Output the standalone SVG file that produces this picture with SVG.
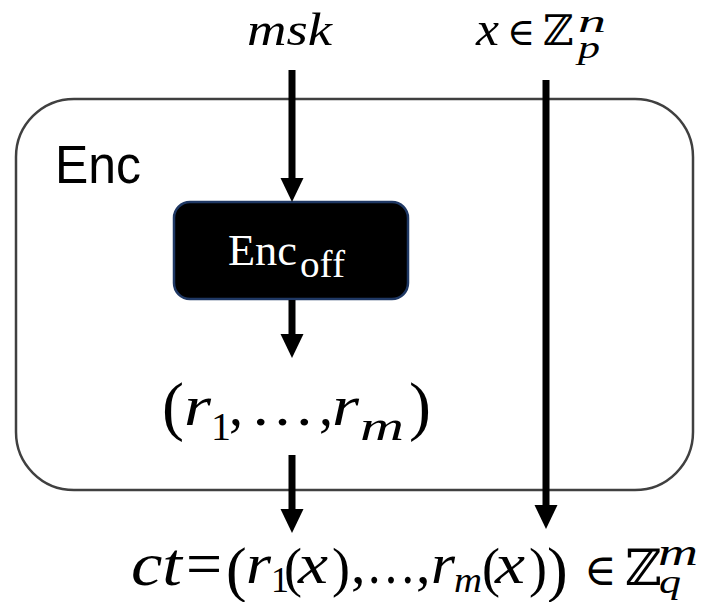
<svg xmlns="http://www.w3.org/2000/svg" width="704" height="602" viewBox="0 0 704 602">
<defs>
<marker id="ah" markerUnits="userSpaceOnUse" markerWidth="24" markerHeight="24" refX="12" refY="11.5" orient="auto" viewBox="0 0 24 23">
<path d="M0,0 L24,11.5 L0,23 z" fill="#000"/>
</marker>
<style>
.m{font-family:"Liberation Serif","DejaVu Serif",serif;font-style:italic;fill:#000}
.r{font-family:"Liberation Serif","DejaVu Serif",serif;fill:#000}
.ds{font-family:"DejaVu Serif","Liberation Serif",serif;fill:#000}
.arr{stroke:#000;stroke-width:7;fill:none;marker-end:url(#ah)}
</style>
</defs>
<rect width="704" height="602" fill="#fff"/>
<g id="enc">
<rect x="16" y="99" width="677" height="391" rx="58" fill="#fff" stroke="#404040" stroke-width="2.5"/>
<text x="55" y="183" font-family="Liberation Sans, Arial, sans-serif" font-size="53" textLength="86" lengthAdjust="spacingAndGlyphs">Enc</text>
</g>
<g id="encoff">
<rect x="174" y="202" width="234" height="97" rx="16" fill="#000" stroke="#1f3864" stroke-width="2.5"/>
<text class="r" x="228" y="265" font-size="45" style="fill:#fff" textLength="69" lengthAdjust="spacingAndGlyphs">Enc</text>
<text class="r" x="300" y="277" font-size="38" style="fill:#fff" textLength="45" lengthAdjust="spacingAndGlyphs">off</text>
</g>
<g id="msk">
<text class="m" x="247" y="45" font-size="46" textLength="85" lengthAdjust="spacingAndGlyphs">msk</text>
</g>
<g id="xin">
<text class="m" x="476" y="45" font-size="48" textLength="23" lengthAdjust="spacingAndGlyphs">x</text>
<text class="ds" x="507" y="45" font-size="38">∈</text>
<text class="ds" x="543" y="45" font-size="42">ℤ</text>
<text class="m" x="578" y="32" font-size="32" textLength="28" lengthAdjust="spacingAndGlyphs">n</text>
<text class="m" x="578" y="58" font-size="32" textLength="22" lengthAdjust="spacingAndGlyphs">p</text>
</g>
<g id="rs">
<text class="r" x="162" y="428" font-size="66">(</text>
<text class="m" x="184" y="425" font-size="58" textLength="27" lengthAdjust="spacingAndGlyphs">r</text>
<text class="r" x="211" y="440" font-size="40">1</text>
<text class="r" x="229" y="425" font-size="56">,</text>
<text class="r" x="250" y="425" font-size="56" textLength="65" lengthAdjust="spacingAndGlyphs">…</text>
<text class="r" x="319" y="425" font-size="56">,</text>
<text class="m" x="332" y="425" font-size="58" textLength="27" lengthAdjust="spacingAndGlyphs">r</text>
<text class="m" x="360" y="440" font-size="40" textLength="44" lengthAdjust="spacingAndGlyphs">m</text>
<text class="r" x="409" y="428" font-size="66">)</text>
</g>
<g id="ct">
<text class="m" x="131" y="585" font-size="62" textLength="51" lengthAdjust="spacingAndGlyphs">ct</text>
<text class="r" x="186" y="585" font-size="64">=</text>
<text class="r" x="226" y="590" font-size="62">(</text>
<text class="m" x="246" y="583" font-size="58" textLength="25" lengthAdjust="spacingAndGlyphs">r</text>
<text class="r" x="271" y="592" font-size="36">1</text>
<text class="r" x="284" y="586" font-size="54">(</text>
<text class="m" x="298" y="583" font-size="58" textLength="30" lengthAdjust="spacingAndGlyphs">x</text>
<text class="r" x="332" y="586" font-size="54">)</text>
<text class="r" x="351" y="583" font-size="58">,</text>
<text class="r" x="366" y="583" font-size="58" textLength="50" lengthAdjust="spacingAndGlyphs">…</text>
<text class="r" x="416" y="583" font-size="58">,</text>
<text class="m" x="431" y="583" font-size="58" textLength="24" lengthAdjust="spacingAndGlyphs">r</text>
<text class="m" x="454" y="592" font-size="36" textLength="28" lengthAdjust="spacingAndGlyphs">m</text>
<text class="r" x="482" y="586" font-size="54">(</text>
<text class="m" x="495" y="583" font-size="58" textLength="30" lengthAdjust="spacingAndGlyphs">x</text>
<text class="r" x="529" y="586" font-size="54">)</text>
<text class="r" x="547" y="590" font-size="62">)</text>
<text class="ds" x="584" y="585" font-size="44">∈</text>
<text class="ds" x="625" y="585" font-size="50">ℤ</text>
<text class="m" x="658" y="565" font-size="38" textLength="40" lengthAdjust="spacingAndGlyphs">m</text>
<text class="m" x="659" y="593" font-size="34" textLength="22" lengthAdjust="spacingAndGlyphs">q</text>
</g>
<g id="connectors">
<line class="arr" x1="292" y1="70" x2="292" y2="190"/>
<line class="arr" x1="292" y1="300" x2="292" y2="346"/>
<line class="arr" x1="292" y1="455" x2="292" y2="521"/>
<line class="arr" x1="546" y1="80" x2="546" y2="517"/>
</g>
</svg>
